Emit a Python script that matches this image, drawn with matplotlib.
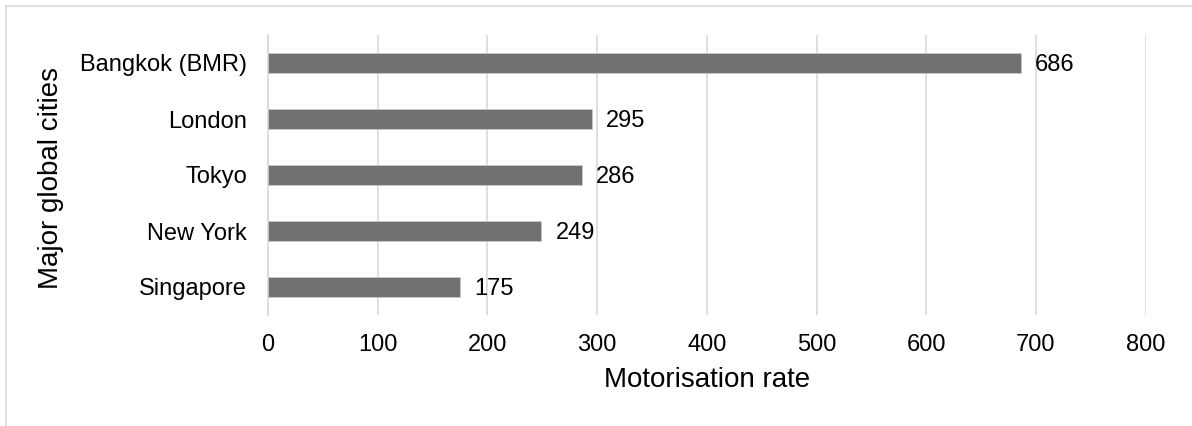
import matplotlib
matplotlib.use("Agg")
import matplotlib.pyplot as plt
from matplotlib.patches import Rectangle

cities = ["Bangkok (BMR)", "London", "Tokyo", "New York", "Singapore"]
rates = [686, 295, 286, 249, 175]
x_ticks = [0, 100, 200, 300, 400, 500, 600, 700, 800]

plt.rcParams["font.family"] = ["Liberation Sans", "DejaVu Sans"]

fig = plt.figure(figsize=(11.92, 4.26), dpi=100)
# light frame around the chart area
fig.patches.append(Rectangle((6 / 1192, -0.1), 1.2, (426 - 6) / 426 + 0.1,
                             transform=fig.transFigure, fill=False,
                             edgecolor="#d9d9d9", linewidth=1.2))

ax = fig.add_axes([268 / 1192, 1 - 315 / 426, (1145.7 - 268) / 1192, (315 - 35) / 426])

ypos = list(range(len(cities)))
ax.barh(ypos, rates, height=0.36, color="#717171", edgecolor="#c8c8c8",
        linewidth=0.6, zorder=3)
for y, v in zip(ypos, rates):
    ax.annotate(f"{v}", xy=(v, y), xytext=(10.5, -1.5), textcoords="offset points",
                ha="left", va="center", fontsize=17, color="#000000")

ax.set_ylim(len(cities) - 0.5, -0.5)
ax.set_xlim(0, 800)
ax.set_xticks(x_ticks)
ax.set_yticks(ypos)
ax.set_yticklabels(cities)

ax.grid(axis="x", color="#d9d9d9", linewidth=1.2, zorder=0)
for s in ["top", "right", "bottom"]:
    ax.spines[s].set_visible(False)
ax.spines["left"].set_color("#d9d9d9")
ax.spines["left"].set_linewidth(1.2)
ax.tick_params(axis="both", length=0, labelsize=17, colors="#000000")
ax.tick_params(axis="y", pad=15)
ax.tick_params(axis="x", pad=14)

ax.set_xlabel("Motorisation rate", fontsize=20, va="center")
ax.set_ylabel("Major global cities", fontsize=20, va="center")
ax.xaxis.set_label_coords(0.5, -0.232)
ax.yaxis.set_label_coords(-0.247, 0.49)

fig.savefig("out.png", dpi=100)
